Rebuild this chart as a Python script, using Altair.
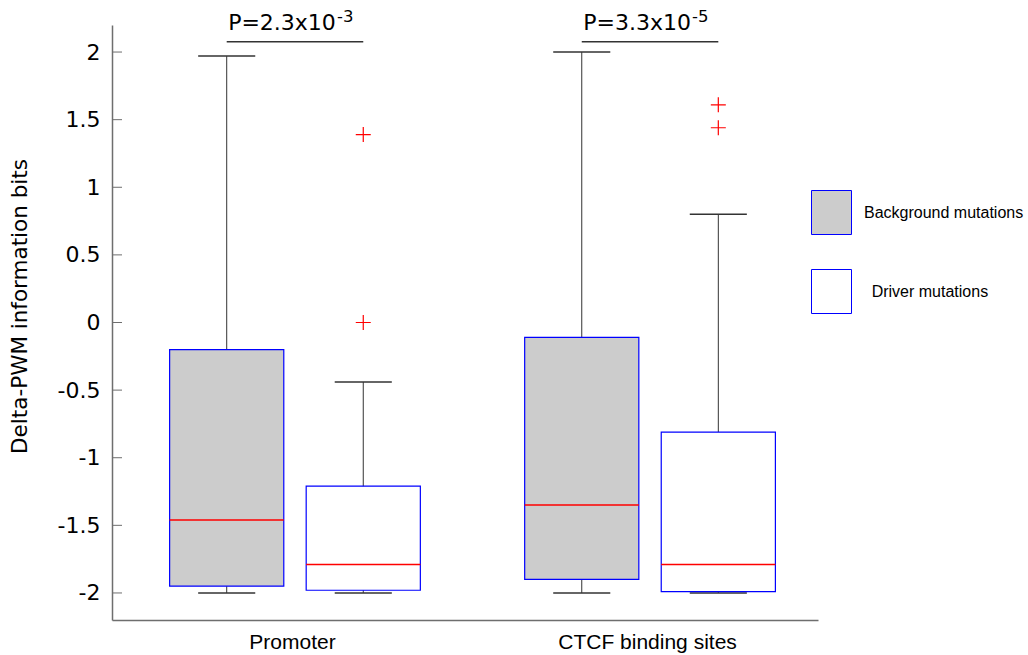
import altair as alt
import pandas as pd

# Pre-computed box statistics, one entry per box
groups = ["Promoter", "Promoter", "CTCF binding sites", "CTCF binding sites"]
series = ["Background mutations", "Driver mutations",
          "Background mutations", "Driver mutations"]
positions = [1.0, 2.0, 3.6, 4.6]
whisker_low = [-2.00, -2.00, -2.00, -2.00]
q1 = [-1.95, -1.98, -1.90, -1.99]
median = [-1.46, -1.79, -1.35, -1.79]
q3 = [-0.20, -1.21, -0.11, -0.81]
whisker_high = [1.97, -0.44, 2.00, 0.80]

# Outliers
outlier_pos = [2.0, 2.0, 4.6, 4.6]
outlier_val = [1.39, 0.00, 1.61, 1.44]

# Category labels on the x axis
group_labels = ["Promoter", "CTCF binding sites"]
group_centers = [1.5, 4.1]

# Significance brackets
pair_start = [1.0, 3.6]
pair_end = [2.0, 4.6]
pair_y = [2.076, 2.076]
p_mantissa = ["P=2.3x10", "P=3.3x10"]
p_exponent = ["-3", "-5"]

y_ticks = [-2, -1.5, -1, -0.5, 0, 0.5, 1, 1.5, 2]
series_names = ["Background mutations", "Driver mutations"]

BOX_HALF = 0.418
CAP_HALF = 0.209
AXIS_GRAY = "#6e6e6e"
LINE_DARK = "#333333"
SANS = "DejaVu Sans"
ARIAL = "Liberation Sans"

boxes = pd.DataFrame({
    "group": groups, "series": series, "pos": positions,
    "lo": whisker_low, "q1": q1, "med": median, "q3": q3, "hi": whisker_high,
})
outliers = pd.DataFrame({"pos": outlier_pos, "val": outlier_val})
ticks = pd.DataFrame({"v": y_ticks})
pairs = pd.DataFrame({"start": pair_start, "end": pair_end, "y": pair_y,
                      "mant": p_mantissa, "expo": p_exponent})

xs = alt.Scale(domain=[0.16, 5.33], nice=False, zero=False)
ys = alt.Scale(domain=[-2.2, 2.2], nice=False, zero=False)

label_expr = " : ".join(
    f"datum.value == {c} ? '{l}'" for c, l in zip(group_centers, group_labels)
) + " : ''"

# The same axis objects go on every layer so the merged axes stay intact
x_axis = alt.Axis(values=group_centers, labelExpr=label_expr, title=None,
                  ticks=False, tickSize=0, grid=False, domainColor=AXIS_GRAY,
                  domainWidth=1.5, labelFont=ARIAL, labelFontSize=21,
                  labelColor="black", labelPadding=11, labelBaseline="top",
                  labelOffset=-3)
y_axis = alt.Axis(values=y_ticks, labelExpr="'' + datum.value",
                  title="Delta-PWM information bits", ticks=False, tickSize=0,
                  grid=False, domainColor=AXIS_GRAY, domainWidth=1.5,
                  labelFont=SANS, labelFontSize=22, labelColor="black",
                  labelPadding=12, titleFont=SANS, titleFontSize=21.5,
                  titleFontWeight="normal", titleColor="black", titleAngle=-90,
                  titleX=-92, titleY=281, titleAlign="center",
                  titleBaseline="middle")


def X(field):
    return alt.X(field, type="quantitative", scale=xs, axis=x_axis)


def Y(field):
    return alt.Y(field, type="quantitative", scale=ys, axis=y_axis)


base = alt.Chart(boxes)

whiskers = base.mark_rule(color=LINE_DARK, strokeWidth=1).encode(
    x=X("pos"), y=Y("lo"), y2="hi:Q",
)

caps_hi = base.transform_calculate(
    a=f"datum.pos - {CAP_HALF}", b=f"datum.pos + {CAP_HALF}"
).mark_rule(color=LINE_DARK, strokeWidth=1.5).encode(
    x=X("a"), x2="b:Q", y=Y("hi"),
)
caps_lo = base.transform_calculate(
    a=f"datum.pos - {CAP_HALF}", b=f"datum.pos + {CAP_HALF}"
).mark_rule(color=LINE_DARK, strokeWidth=1.5).encode(
    x=X("a"), x2="b:Q", y=Y("lo"),
)

# A zero-width space keeps the indent of the second label from being trimmed
legend = alt.Legend(
    title=None, orient="none", legendX=699, legendY=167,
    symbolType="M-1,-1.1H1V1.1H-1Z", symbolSize=1600,
    symbolStrokeColor="#0000ff", symbolStrokeWidth=1, symbolOpacity=1,
    labelFont=ARIAL, labelFontSize=16, labelColor="black", labelOffset=12,
    rowPadding=30, padding=0,
    labelExpr="datum.value == 'Driver mutations' ? '\u200b\u00a0\u2009' + datum.value : datum.value",
)

box_rects = base.transform_calculate(
    a=f"datum.pos - {BOX_HALF}", b=f"datum.pos + {BOX_HALF}"
).mark_rect(stroke="#0000ff", strokeWidth=1.2, opacity=1).encode(
    x=X("a"), x2="b:Q", y=Y("q1"), y2="q3:Q",
    fill=alt.Fill("series:N",
                  scale=alt.Scale(domain=series_names,
                                  range=["#cccccc", "#ffffff"]),
                  legend=legend),
)

medians = base.transform_calculate(
    a=f"datum.pos - {BOX_HALF}", b=f"datum.pos + {BOX_HALF}"
).mark_rule(color="#ff0000", strokeWidth=1.5).encode(
    x=X("a"), x2="b:Q", y=Y("med"),
)

outlier_pts = alt.Chart(outliers).mark_point(
    shape="M-1,0H1M0,-1V1", size=225, stroke="#ff0000", strokeWidth=1.2,
    filled=False, opacity=1,
).encode(x=X("pos"), y=Y("val"))

inner_ticks = alt.Chart(ticks).mark_rule(color=AXIS_GRAY, strokeWidth=1).encode(
    x=alt.value(0), x2=alt.value(10), y=Y("v"),
)

brackets = alt.Chart(pairs).mark_rule(color=LINE_DARK, strokeWidth=1.5).encode(
    x=X("start"), x2="end:Q", y=Y("y"),
)

p_main = alt.Chart(pairs).transform_calculate(
    mid="(datum.start + datum.end) / 2"
).mark_text(font=SANS, fontSize=22, align="center", baseline="alphabetic",
            dx=-13, dy=-11.5, color="black").encode(
    x=X("mid"), y=Y("y"), text="mant:N",
)
p_sup = alt.Chart(pairs).transform_calculate(
    mid="(datum.start + datum.end) / 2"
).mark_text(font=SANS, fontSize=16.5, align="left", baseline="alphabetic",
            dx=42, dy=-20, color="black").encode(
    x=X("mid"), y=Y("y"), text="expo:N",
)

chart = alt.layer(
    whiskers, caps_hi, caps_lo, box_rects, medians, outlier_pts,
    inner_ticks, brackets, p_main, p_sup,
).properties(
    width=706, height=595,
    padding={"left": 112, "top": 25, "right": 210, "bottom": 35},
    autosize=alt.AutoSizeParams(type="none"),
    background="white",
).configure_view(stroke=None)

chart.save("out.html", embed_options={"renderer": "svg", "actions": False})
